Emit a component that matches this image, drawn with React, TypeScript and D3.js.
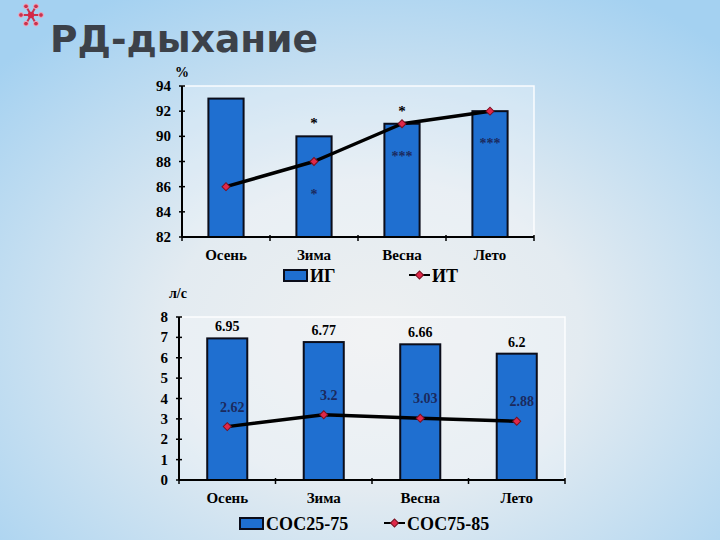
import * as d3 from 'd3';
import { useEffect, useRef } from 'react';

const seasons = ['Осень', 'Зима', 'Весна', 'Лето'];

// upper chart, %
const igValues = [93, 90, 91, 92];
const itValues = [86, 88, 91, 92];
const pctTicks = [82, 84, 86, 88, 90, 92, 94];
const starsAbove = ['', '*', '*', ''];
const starsInside = ['', '*', '***', '***'];

// lower chart, л/с
const soc2575 = [6.95, 6.77, 6.66, 6.2];
const soc7585 = [2.62, 3.2, 3.03, 2.88];
const lpsTicks = [0, 1, 2, 3, 4, 5, 6, 7, 8];

const BAR_FILL = '#1f6fd0';
const LABEL_NAVY = '#1b2a5e';
const SERIF = '"Liberation Serif", "Times New Roman", serif';

type Sel = d3.Selection<SVGGElement, unknown, null, undefined>;

interface PanelOpts {
  left: number;
  right: number;
  top: number;
  bottom: number;
  domain: [number, number];
  ticks: number[];
  bars: number[];
  line: number[];
  padding: number;
  unit: string;
  unitX: number;
  unitY: number;
  barName: string;
  lineName: string;
  legendY: number;
  legendBarX: number;
  legendLineX: number;
}

function marker(g: Sel, x: number, y: number) {
  g.append('path')
    .attr('d', d3.symbol(d3.symbolSquare, 32)())
    .attr('transform', `translate(${x},${y}) rotate(45)`)
    .attr('fill', '#e0284a')
    .attr('stroke', '#7a1020')
    .attr('stroke-width', 1);
}

function drawPanel(root: Sel, o: PanelOpts) {
  const g = root.append('g');
  const x = d3.scaleBand<string>()
    .domain(seasons)
    .range([o.left, o.right])
    .paddingInner(o.padding)
    .paddingOuter(o.padding / 2);
  const y = d3.scaleLinear().domain(o.domain).range([o.bottom, o.top]);
  const cx = (i: number) => (x(seasons[i]) ?? 0) + x.bandwidth() / 2;

  // plot area
  g.append('rect')
    .attr('x', o.left)
    .attr('y', o.top)
    .attr('width', o.right - o.left)
    .attr('height', o.bottom - o.top)
    .attr('fill', '#ffffff')
    .attr('fill-opacity', 0.22)
    .attr('stroke', '#ffffff')
    .attr('stroke-opacity', 0.9)
    .attr('stroke-width', 1.5);

  // bars
  g.selectAll('.bar')
    .data(o.bars)
    .join('rect')
    .attr('x', (_, i) => x(seasons[i]) ?? 0)
    .attr('y', d => y(d))
    .attr('width', x.bandwidth())
    .attr('height', d => o.bottom - y(d))
    .attr('fill', BAR_FILL)
    .attr('stroke', '#0b0d1a')
    .attr('stroke-width', 2);

  // y axis
  g.append('line')
    .attr('x1', o.left).attr('x2', o.left)
    .attr('y1', o.top).attr('y2', o.bottom)
    .attr('stroke', '#000').attr('stroke-width', 2);
  o.ticks.forEach(t => {
    g.append('line')
      .attr('x1', o.left - 3).attr('x2', o.left + 3)
      .attr('y1', y(t)).attr('y2', y(t))
      .attr('stroke', '#000').attr('stroke-width', 1.5);
    g.append('text')
      .attr('x', o.left - 11)
      .attr('y', y(t) + 5)
      .attr('text-anchor', 'end')
      .attr('font-family', SERIF)
      .attr('font-weight', 'bold')
      .attr('font-size', 15)
      .text(String(t));
  });

  // x axis
  g.append('line')
    .attr('x1', o.left).attr('x2', o.right)
    .attr('y1', o.bottom).attr('y2', o.bottom)
    .attr('stroke', '#000').attr('stroke-width', 2);
  const step = x.step();
  d3.range(seasons.length + 1).forEach(i => {
    const tx = o.left + i * step;
    g.append('line')
      .attr('x1', tx).attr('x2', tx)
      .attr('y1', o.bottom - 2).attr('y2', o.bottom + 4)
      .attr('stroke', '#000').attr('stroke-width', 1.5);
  });
  seasons.forEach((s, i) => {
    g.append('text')
      .attr('x', cx(i))
      .attr('y', o.bottom + 23)
      .attr('text-anchor', 'middle')
      .attr('font-family', SERIF)
      .attr('font-weight', 'bold')
      .attr('font-size', 15)
      .text(s);
  });

  // line series
  const line = d3.line<number>()
    .x((_, i) => cx(i))
    .y(d => y(d));
  g.append('path')
    .datum(o.line)
    .attr('d', line)
    .attr('fill', 'none')
    .attr('stroke', '#000')
    .attr('stroke-width', 3.5)
    .attr('stroke-linejoin', 'round');
  o.line.forEach((v, i) => marker(g, cx(i), y(v)));

  // unit label
  g.append('text')
    .attr('x', o.unitX)
    .attr('y', o.unitY)
    .attr('text-anchor', 'middle')
    .attr('font-family', SERIF)
    .attr('font-weight', 'bold')
    .attr('font-size', 14)
    .text(o.unit);

  // legend
  g.append('rect')
    .attr('x', o.legendBarX)
    .attr('y', o.legendY - 11)
    .attr('width', 23)
    .attr('height', 11)
    .attr('fill', BAR_FILL)
    .attr('stroke', '#0b0d1a')
    .attr('stroke-width', 2);
  g.append('text')
    .attr('x', o.legendBarX + 26)
    .attr('y', o.legendY + 1)
    .attr('font-family', SERIF)
    .attr('font-weight', 'bold')
    .attr('font-size', 18)
    .text(o.barName);
  g.append('line')
    .attr('x1', o.legendLineX).attr('x2', o.legendLineX + 21)
    .attr('y1', o.legendY - 6).attr('y2', o.legendY - 6)
    .attr('stroke', '#000').attr('stroke-width', 2);
  marker(g, o.legendLineX + 10.5, o.legendY - 6);
  g.append('text')
    .attr('x', o.legendLineX + 23)
    .attr('y', o.legendY + 1)
    .attr('font-family', SERIF)
    .attr('font-weight', 'bold')
    .attr('font-size', 18)
    .text(o.lineName);

  return { g, x, y, cx };
}

export default function App() {
  const svgRef = useRef<SVGSVGElement>(null);

  useEffect(() => {
    if (!svgRef.current) return;
    const svg = d3.select(svgRef.current);
    svg.selectAll('*').remove();

    const defs = svg.append('defs');
    const bg = defs.append('radialGradient')
      .attr('id', 'bg')
      .attr('cx', '52%').attr('cy', '62%').attr('r', '72%');
    bg.append('stop').attr('offset', '0%').attr('stop-color', '#eef0f1');
    bg.append('stop').attr('offset', '40%').attr('stop-color', '#e3ebf1');
    bg.append('stop').attr('offset', '100%').attr('stop-color', '#a4d1f1');

    svg.append('rect')
      .attr('width', 720).attr('height', 540)
      .attr('fill', 'url(#bg)');

    const root = svg.append('g') as unknown as Sel;

    // title
    const star = root.append('g').attr('transform', 'translate(31,15)');
    [0, 60, 120].forEach(a => {
      star.append('line')
        .attr('x1', -10).attr('x2', 10)
        .attr('transform', `rotate(${a})`)
        .attr('stroke', '#c8344f').attr('stroke-width', 2);
    });
    d3.range(6).forEach(k => {
      const a = (k * Math.PI) / 3;
      star.append('circle')
        .attr('cx', 10 * Math.cos(a)).attr('cy', 10 * Math.sin(a))
        .attr('r', 2.4)
        .attr('fill', '#c8344f')
        .attr('stroke', '#f4a9c0').attr('stroke-width', 1);
    });
    star.append('circle').attr('r', 3.2).attr('fill', '#d42848');

    root.append('text')
      .attr('x', 50)
      .attr('y', 52)
      .attr('textLength', 268)
      .attr('lengthAdjust', 'spacingAndGlyphs')
      .attr('font-family', '"DejaVu Sans", Verdana, sans-serif')
      .attr('font-weight', 'bold')
      .attr('font-size', 37)
      .attr('fill', '#3c4149')
      .text('РД-дыхание');

    // upper chart
    const top = drawPanel(root, {
      left: 182, right: 534, top: 86, bottom: 237,
      domain: [82, 94], ticks: pctTicks,
      bars: igValues, line: itValues, padding: 0.6,
      unit: '%', unitX: 182, unitY: 77,
      barName: 'ИГ', lineName: 'ИТ',
      legendY: 281, legendBarX: 284, legendLineX: 409,
    });
    starsAbove.forEach((s, i) => {
      if (!s) return;
      top.g.append('text')
        .attr('x', top.cx(i))
        .attr('y', top.y(igValues[i]) - 8)
        .attr('text-anchor', 'middle')
        .attr('font-family', SERIF)
        .attr('font-weight', 'bold')
        .attr('font-size', 15)
        .text(s);
    });
    starsInside.forEach((s, i) => {
      if (!s) return;
      top.g.append('text')
        .attr('x', top.cx(i))
        .attr('y', top.y(itValues[i]) + 37)
        .attr('text-anchor', 'middle')
        .attr('fill', LABEL_NAVY)
        .attr('font-family', SERIF)
        .attr('font-weight', 'bold')
        .attr('font-size', 14)
        .text(s);
    });

    // lower chart
    const bottom = drawPanel(root, {
      left: 179, right: 565, top: 317, bottom: 480,
      domain: [0, 8], ticks: lpsTicks,
      bars: soc2575, line: soc7585, padding: 0.585,
      unit: 'л/с', unitX: 178, unitY: 298,
      barName: 'СОС25-75', lineName: 'СОС75-85',
      legendY: 529, legendBarX: 240, legendLineX: 384,
    });
    soc2575.forEach((v, i) => {
      bottom.g.append('text')
        .attr('x', bottom.cx(i))
        .attr('y', bottom.y(v) - 7)
        .attr('text-anchor', 'middle')
        .attr('font-family', SERIF)
        .attr('font-weight', 'bold')
        .attr('font-size', 14)
        .text(String(v));
    });
    soc7585.forEach((v, i) => {
      bottom.g.append('text')
        .attr('x', bottom.cx(i) + 5)
        .attr('y', bottom.y(v) - 15)
        .attr('text-anchor', 'middle')
        .attr('fill', LABEL_NAVY)
        .attr('font-family', SERIF)
        .attr('font-weight', 'bold')
        .attr('font-size', 14)
        .text(String(v));
    });
  }, []);

  return (
    <div style={{ position: 'absolute', left: 0, top: 0 }}>
      <svg ref={svgRef} width={720} height={540} style={{ display: 'block' }} />
    </div>
  );
}
